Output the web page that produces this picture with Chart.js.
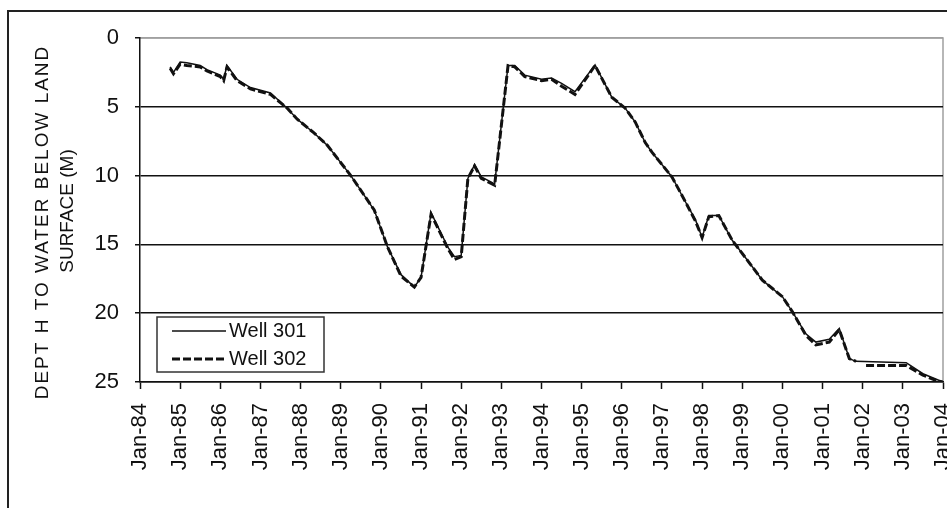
<!DOCTYPE html>
<html>
<head>
<meta charset="utf-8">
<script src="https://cdn.jsdelivr.net/npm/chart.js@4.4.1/dist/chart.umd.min.js"></script>
<style>
  html, body { margin: 0; padding: 0; background: #fff; }
  #wrap { width: 947px; height: 508px; }
</style>
</head>
<body>
<div id="wrap"><canvas id="chart" width="947" height="508"></canvas></div>
<script>
// tick labels along the time axis
const xTickLabels = ['Jan-84', 'Jan-85', 'Jan-86', 'Jan-87', 'Jan-88', 'Jan-89', 'Jan-90',
    'Jan-91', 'Jan-92', 'Jan-93', 'Jan-94', 'Jan-95', 'Jan-96', 'Jan-97', 'Jan-98',
    'Jan-99', 'Jan-00', 'Jan-01', 'Jan-02', 'Jan-03', 'Jan-04'];

const yTitle = ['DEPT H TO WATER BELOW LAND', 'SURFACE (M)'];

// Well 301 (depth to water, m)
const dates301 = ['1984-10', '1984-11', '1985-01', '1985-03', '1985-07', '1985-09', '1986-01',
    '1986-02', '1986-03', '1986-06', '1986-10', '1987-04', '1987-09', '1987-12', '1988-05',
    '1988-09', '1989-04', '1989-11', '1990-03', '1990-07', '1990-11', '1991-01', '1991-04',
    '1991-09', '1991-11', '1992-01', '1992-03', '1992-05', '1992-07', '1992-11', '1993-03',
    '1993-05', '1993-08', '1994-01', '1994-04', '1994-07', '1994-11', '1995-05', '1995-10',
    '1996-02', '1996-05', '1996-08', '1996-10', '1997-04', '1997-08', '1997-11', '1998-01',
    '1998-03', '1998-06', '1998-08', '1998-10', '1999-03', '1999-07', '2000-01', '2000-04',
    '2000-08', '2000-11', '2001-03', '2001-06', '2001-09', '2001-11', '2003-02', '2003-07',
    '2003-11', '2004-01'];
const depth301 = [2.1, 2.5, 1.75, 1.8, 2.0, 2.3, 2.7,
    3.0, 2.0, 3.0, 3.6, 4.0, 5.1, 5.9, 6.9,
    7.8, 10.0, 12.5, 15.2, 17.2, 18.1, 17.4, 12.7,
    15.2, 15.9, 15.8, 10.2, 9.2, 10.1, 10.6, 2.0,
    2.0, 2.7, 3.0, 2.9, 3.3, 3.9, 1.95, 4.3,
    5.1, 6.1, 7.6, 8.3, 10.1, 11.9, 13.2, 14.5,
    12.9, 12.9, 13.8, 14.7, 16.3, 17.6, 18.8, 19.9,
    21.5, 22.1, 21.9, 21.1, 23.3, 23.5, 23.6, 24.4,
    24.8, 25.0];

// Well 302 (depth to water, m), with a gap in late 2001
const dates302 = ['1984-10', '1984-11', '1985-01', '1985-03', '1985-07', '1985-09', '1986-01',
    '1986-02', '1986-03', '1986-06', '1986-10', '1987-04', '1987-09', '1987-12', '1988-05',
    '1988-09', '1989-04', '1989-11', '1990-03', '1990-07', '1990-11', '1991-01', '1991-04',
    '1991-09', '1991-11', '1992-01', '1992-03', '1992-05', '1992-07', '1992-11', '1993-03',
    '1993-05', '1993-08', '1994-01', '1994-04', '1994-07', '1994-11', '1995-05', '1995-10',
    '1996-02', '1996-05', '1996-08', '1996-10', '1997-04', '1997-08', '1997-11', '1998-01',
    '1998-03', '1998-06', '1998-08', '1998-10', '1999-03', '1999-07', '2000-01', '2000-04',
    '2000-08', '2000-11', '2001-03', '2001-06', '2001-09', '2001-11', '2001-12', '2002-02',
    '2003-02', '2003-07', '2003-11', '2004-01'];
const depth302 = [2.2, 2.6, 1.9, 2.0, 2.1, 2.4, 2.8,
    3.1, 2.1, 3.1, 3.7, 4.1, 5.1, 5.9, 6.9,
    7.8, 10.0, 12.5, 15.2, 17.3, 18.1, 17.4, 12.8,
    15.3, 16.1, 15.9, 10.2, 9.3, 10.2, 10.7, 2.0,
    2.1, 2.8, 3.1, 3.0, 3.5, 4.1, 2.0, 4.3,
    5.1, 6.1, 7.6, 8.3, 10.1, 11.9, 13.3, 14.5,
    13.0, 12.9, 13.8, 14.7, 16.3, 17.6, 18.8, 19.9,
    21.6, 22.3, 22.1, 21.2, 23.3, 23.5, null, 23.8,
    23.8, 24.5, 24.9, 25.0];

const toYear = s => {
    const [y, m] = s.split('-').map(Number);
    return y + (m - 1) / 12;
};

const toPoints = (dates, values) => dates.map((d, i) => ({ x: toYear(d), y: values[i] }));

const FONT = '"Liberation Sans", Arial, sans-serif';

// white page, outer frame and the grey top/right plot edges
const framePlugin = {
    id: 'frame',
    beforeDraw(chart) {
        const ctx = chart.ctx;
        const a = chart.chartArea;
        ctx.save();
        ctx.fillStyle = '#fff';
        ctx.fillRect(0, 0, chart.width, chart.height);
        ctx.strokeStyle = '#222';
        ctx.lineWidth = 2;
        ctx.beginPath();
        ctx.moveTo(8, chart.height + 5);
        ctx.lineTo(8, 11);
        ctx.lineTo(chart.width + 5, 11);
        ctx.stroke();
        ctx.strokeStyle = '#a0a0a0';
        ctx.lineWidth = 1.5;
        ctx.beginPath();
        ctx.moveTo(a.left, a.top);
        ctx.lineTo(a.right, a.top);
        ctx.lineTo(a.right, a.bottom);
        ctx.stroke();
        ctx.restore();
    }
};

// legend box sitting inside the plot, bottom left
const legendBox = {
    id: 'legendBox',
    afterDatasetsDraw(chart) {
        const { ctx, chartArea } = chart;
        const x = chartArea.left + 17, y = chartArea.bottom - 65, w = 167, h = 55;
        ctx.save();
        ctx.fillStyle = '#fff';
        ctx.fillRect(x, y, w, h);
        ctx.strokeStyle = '#333';
        ctx.lineWidth = 1.5;
        ctx.strokeRect(x, y, w, h);
        ctx.font = '20px ' + FONT;
        ctx.fillStyle = '#111';
        ctx.textBaseline = 'middle';
        chart.data.datasets.forEach((ds, i) => {
            const cy = y + 14 + i * 28;
            ctx.strokeStyle = ds.borderColor;
            ctx.lineWidth = ds.borderWidth;
            ctx.setLineDash(ds.borderDash || []);
            ctx.beginPath();
            ctx.moveTo(x + 15, cy);
            ctx.lineTo(x + 69, cy);
            ctx.stroke();
            ctx.setLineDash([]);
            ctx.fillText(ds.label, x + 72, cy);
        });
        ctx.restore();
    }
};

// two-line rotated axis title
const yTitlePlugin = {
    id: 'yTitle',
    afterDraw(chart) {
        const { ctx, chartArea } = chart;
        const mid = (chartArea.top + chartArea.bottom) / 2;
        ctx.save();
        ctx.font = '19px ' + FONT;
        ctx.fillStyle = '#111';
        ctx.textAlign = 'center';
        ctx.textBaseline = 'middle';
        [[43, mid + 12, '2px'], [68, mid + 1, '0px']].forEach(([px, py, sp], i) => {
            ctx.save();
            ctx.letterSpacing = sp;
            ctx.translate(px, py);
            ctx.rotate(-Math.PI / 2);
            ctx.fillText(yTitle[i], 0, 0);
            ctx.restore();
        });
        ctx.restore();
    }
};

new Chart(document.getElementById('chart'), {
    type: 'line',
    data: {
        datasets: [
            {
                label: 'Well 301',
                data: toPoints(dates301, depth301),
                borderColor: '#111',
                borderWidth: 1.5,
                pointRadius: 0,
                tension: 0,
                order: 1
            },
            {
                label: 'Well 302',
                data: toPoints(dates302, depth302),
                borderColor: '#111',
                borderWidth: 3,
                borderDash: [8, 3],
                pointRadius: 0,
                tension: 0,
                order: 0
            }
        ]
    },
    options: {
        responsive: false,
        animation: false,
        devicePixelRatio: 1,
        layout: { padding: { left: 0, top: 38, right: 4, bottom: 0 } },
        plugins: { legend: { display: false }, tooltip: { enabled: false } },
        scales: {
            x: {
                type: 'linear',
                min: 1984,
                max: 2004,
                ticks: {
                    stepSize: 1,
                    autoSkip: false,
                    maxRotation: 90,
                    minRotation: 90,
                    padding: 14,
                    color: '#111',
                    font: { family: FONT, size: 22 },
                    callback: (v, i) => xTickLabels[i]
                },
                grid: { drawOnChartArea: false, tickLength: 7, tickColor: '#111', tickWidth: 1.5 },
                border: { color: '#111', width: 1.5 },
                afterFit: s => { s.height = 126; s.paddingLeft = 0; s.paddingRight = 0; }
            },
            y: {
                reverse: true,
                min: 0,
                max: 25,
                ticks: {
                    stepSize: 5,
                    padding: 16,
                    color: '#111',
                    font: { family: FONT, size: 22 }
                },
                grid: {
                    color: c => c.tick && c.tick.value === 0 ? '#a0a0a0' : '#111',
                    lineWidth: 1.5,
                    tickLength: 5,
                    tickColor: '#111'
                },
                border: { color: '#111', width: 1.5 },
                afterFit: s => { s.width = 140; }
            }
        }
    },
    plugins: [framePlugin, legendBox, yTitlePlugin]
});
</script>
</body>
</html>
